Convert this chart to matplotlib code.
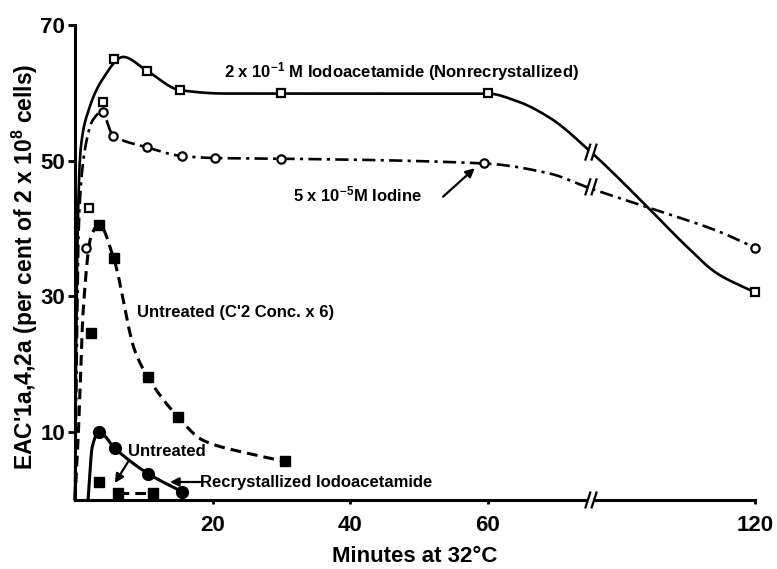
import numpy as np
import matplotlib.pyplot as plt
from matplotlib import font_manager

names = {f.name for f in font_manager.fontManager.ttflist}
FONT = 'Liberation Sans' if 'Liberation Sans' in names else 'DejaVu Sans'
plt.rcParams['font.family'] = [FONT, 'DejaVu Sans']
plt.rcParams['font.weight'] = 'bold'
plt.rcParams['mathtext.fontset'] = 'custom'
plt.rcParams['mathtext.rm'] = FONT + ':bold'
plt.rcParams['mathtext.default'] = 'rm'

# 2 x 10^-1 M iodoacetamide (nonrecrystallized): open squares, solid line
sq_t = [2, 4, 5.6, 10.4, 15.3, 30, 60, 120]
sq_v = [43, 58.7, 65, 63.2, 60.4, 60, 60, 30.6]
sq_fit_t = [0, 0.3, 0.8, 2, 4, 7, 10.4, 15.3, 22, 30, 60, 66.5, 74, 83.3, 96, 104, 111.5, 120]
sq_fit_v = [0, 35, 51.5, 57.5, 62, 65.3, 63.3, 60.4, 59.9, 59.9, 59.9, 58.8, 56.3, 51.2, 43.1, 37.8, 33.4, 30.6]

# 5 x 10^-5 M iodine: open circles, dash-dot line
io_t = [1.6, 4, 5.5, 10.4, 15.5, 20.3, 30, 59.5, 120]
io_v = [37.2, 57.2, 53.7, 52, 50.7, 50.4, 50.3, 49.6, 37.2]
io_fit_t = [0, 0.6, 1.5, 2.6, 3.9, 5.5, 10.4, 15.5, 20.3, 30, 59.5, 74, 82.3, 96, 111.4, 120]
io_fit_v = [0, 42, 52, 56, 57.2, 53.8, 52, 50.7, 50.4, 50.3, 49.6, 48.1, 46.1, 43.1, 39.7, 37.2]

# untreated (C'2 conc. x 6): filled squares, dashed line
cc_t = [2.3, 3.5, 5.6, 10.6, 15, 30.5]
cc_v = [24.6, 40.5, 35.7, 18.1, 12.2, 5.7]
cc_fit_t = [0, 0.5, 1.2, 2.3, 3.5, 5.6, 8.7, 10.6, 15, 18.6, 25, 30.5]
cc_fit_v = [0, 10, 28, 38.7, 40.6, 35.7, 22, 18.1, 12.2, 8.8, 6.9, 5.7]

# filled circles, solid line
rc_t = [3.5, 5.8, 10.6, 15.6]
rc_v = [10, 7.6, 3.9, 1.2]
rc_fit_t = [1.9, 2.1, 2.5, 3.5, 5.8, 10.6, 15.6]
rc_fit_v = [0, 3, 7.8, 10, 7.6, 3.9, 1.2]

# low filled squares, dashed
lo_t = [3.5, 6.2, 11.4]
lo_v = [2.6, 1.0, 1.0]

xtick_vals = [20, 40, 60, 120]
ytick_vals = [10, 30, 50, 70]

AFTER = 0.647   # compression of the axis after the break
BREAK_U = 75.0


def to_u(t):
    t = np.asarray(t, float)
    return np.where(t <= 60, t, 60 + (t - 60) * AFTER)


def pchip(x, y, xs):
    x = np.asarray(x, float); y = np.asarray(y, float)
    h = np.diff(x); d = np.diff(y) / h
    m = np.zeros_like(y)
    m[0], m[-1] = d[0], d[-1]
    for k in range(1, len(x) - 1):
        if d[k - 1] * d[k] > 0:
            w1 = 2 * h[k] + h[k - 1]; w2 = h[k] + 2 * h[k - 1]
            m[k] = (w1 + w2) / (w1 / d[k - 1] + w2 / d[k])
    i = np.clip(np.searchsorted(x, xs) - 1, 0, len(x) - 2)
    s = (xs - x[i]) / h[i]
    return ((2*s**3 - 3*s**2 + 1) * y[i] + (s**3 - 2*s**2 + s) * h[i] * m[i]
            + (-2*s**3 + 3*s**2) * y[i+1] + (s**3 - s**2) * h[i] * m[i+1])


def curve(ft, fv):
    u = to_u(ft)
    xs = np.linspace(u[0], u[-1], 600)
    return xs, pchip(u, fv, xs)


fig = plt.figure(figsize=(7.77, 5.69), dpi=100)
ax = fig.add_axes([0.0965, 0.1213, 0.875, 0.8347])

lw = 1.9
xs, ys = curve(sq_fit_t, sq_fit_v)
ax.plot(xs, ys, 'k-', lw=lw, clip_on=False)
sq_curve = (xs, ys)
ax.plot(to_u(sq_t), sq_v, 's', ms=6, mfc='white', mec='k', mew=1.6, clip_on=False, zorder=5)

xs, ys = curve(io_fit_t, io_fit_v)
ax.plot(xs, ys, 'k', lw=lw, dashes=(5, 2, 1.2, 2), clip_on=False)
io_curve = (xs, ys)
ax.plot(to_u(io_t), io_v, 'o', ms=6, mfc='white', mec='k', mew=1.6, clip_on=False, zorder=5)

xs, ys = curve(cc_fit_t, cc_fit_v)
ax.plot(xs, ys, 'k', lw=2.2, dashes=(3.5, 2), clip_on=False)
ax.plot(to_u(cc_t), cc_v, 's', ms=7, color='k', clip_on=False, zorder=5)

xs, ys = curve(rc_fit_t, rc_fit_v)
ax.plot(xs, ys, 'k-', lw=2.2, clip_on=False)
ax.plot(to_u(rc_t), rc_v, 'o', ms=8.5, color='k', clip_on=False, zorder=5)

ax.plot(to_u(lo_t[1:]), lo_v[1:], 'k', lw=2.2, dashes=(3.5, 2), clip_on=False)
ax.plot(to_u(lo_t), lo_v, 's', ms=7, color='k', clip_on=False, zorder=5)


def break_mark(yc):
    ax.plot([BREAK_U - 0.5, BREAK_U + 0.5], [yc, yc], color='white', lw=4,
            zorder=6, clip_on=False, solid_capstyle='butt')
    for dx in (-0.45, 0.45):
        ax.plot([BREAK_U + dx - 0.35, BREAK_U + dx + 0.35], [yc - 1.1, yc + 1.1],
                'k-', lw=1.6, zorder=7, clip_on=False)


break_mark(0.0)
break_mark(np.interp(BREAK_U, *sq_curve))
break_mark(np.interp(BREAK_U - 0.7, *io_curve))

ax.set_xlim(0, to_u(120))
ax.set_ylim(0, 70)
ax.set_xticks(to_u(xtick_vals))
ax.set_xticklabels([str(v) for v in xtick_vals])
ax.set_yticks(ytick_vals)
for s in ('top', 'right'):
    ax.spines[s].set_visible(False)
for s in ('left', 'bottom'):
    ax.spines[s].set_linewidth(2.2)
ax.tick_params(axis='y', direction='out', length=5, width=2, labelsize=16, pad=2)
ax.tick_params(axis='x', direction='out', length=3, width=2, labelsize=16, pad=8)

ax.set_xlabel('Minutes at 32°C', fontsize=16, fontweight='bold', labelpad=7)
ax.set_ylabel(r"EAC'1a,4,2a (per cent of 2 x 10$^{8}$ cells)", fontsize=16.5,
              fontweight='bold')
ax.yaxis.set_label_coords(-0.052, 0.49)

tkw = dict(fontsize=12, fontweight='bold', va='center', ha='left')
ax.text(21.6, 63.1, r"2 x 10$^{-1}$ M Iodoacetamide (Nonrecrystallized)", **tkw)
ax.text(31.7, 45.1, r"5 x 10$^{-5}$M Iodine", **tkw)
ax.text(9.0, 27.6, "Untreated (C'2 Conc. x 6)", **tkw)
ax.text(7.7, 7.1, "Untreated", **tkw)
ax.text(18.2, 2.65, "Recrystallized Iodoacetamide", **tkw)

akw = dict(arrowstyle='-|>', color='k', lw=1.6, mutation_scale=13, shrinkA=0, shrinkB=0)
ax.annotate('', xy=(58.1, 48.9), xytext=(53.5, 44.7), arrowprops=akw)
ax.annotate('', xy=(5.8, 2.5), xytext=(7.7, 5.6), arrowprops=akw)
ax.annotate('', xy=(13.8, 2.65), xytext=(18.2, 2.65), arrowprops=akw)

fig.savefig('out.png', dpi=100)
